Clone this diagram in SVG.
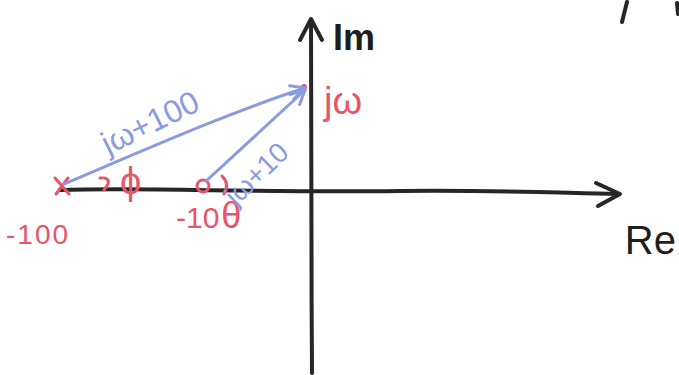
<svg xmlns="http://www.w3.org/2000/svg" width="679" height="375" viewBox="0 0 679 375">
<defs>
<style>
.ax{stroke:#262626;stroke-width:4;fill:none;stroke-linecap:round;stroke-linejoin:round}
.red{fill:#e85468;font-family:"Liberation Sans",sans-serif}
.redS{stroke:#e85468;stroke-width:3;fill:none;stroke-linecap:round}
.blk{fill:#1e1e1e;font-family:"Liberation Sans",sans-serif}
.blue{fill:#8a9be0;font-family:"Liberation Sans",sans-serif}
.vec{stroke:#8a9be0;stroke-width:3;fill:none;stroke-linecap:round}
</style>
<marker id="ah" viewBox="0 0 12 12" refX="11" refY="6" markerWidth="6" markerHeight="6" orient="auto" markerUnits="strokeWidth">
<path d="M1,1 L11,6 L1,11" fill="none" stroke="#8a9be0" stroke-width="2"/>
</marker>
</defs>
<rect width="679" height="375" fill="#fff"/>
<g id="axes">
<path class="ax" d="M60,190 C150,187 250,193 400,191 C500,190 560,193 618,194"/>
<path class="ax" d="M596,183 L620,194 L598,206"/>
<path class="ax" d="M312,373 C311,250 312,120 311,20"/>
<path class="ax" d="M300,40 L311,19 L322,40"/>
<path class="ax" d="M627,2 L622,22"/>
<path class="ax" d="M677,3 L678,14"/>
</g>
<g id="label-im"><text class="blk" x="333" y="50" font-size="36" font-family="'Liberation Serif',serif" font-weight="bold">Im</text></g>
<g id="label-re"><text class="blk" x="676" y="254" font-size="40" text-anchor="end">Re</text></g>
<g id="pole">
<path class="redS" d="M55,178 L69,194 M68,178 L56,194"/>
<text class="red" x="6" y="244" font-size="28" letter-spacing="2">-100</text>
</g>
<g id="zero">
<circle class="redS" cx="203" cy="186" r="6"/>
<text class="red" x="176" y="228" font-size="30">-10<tspan dx="2" font-size="36">θ</tspan></text>
<path class="redS" d="M222,176 Q230,184 224,194"/>
</g>
<g id="angle-phi">
<path class="redS" d="M100,178 Q110,177 108,184 L104,190"/>
<text class="red" x="120" y="194" font-size="38">ϕ</text>
</g>
<g id="point-jw">
<circle cx="304" cy="87" r="3" fill="#e85468"/>
<text class="red" x="324" y="114" font-size="38">jω</text>
</g>
<g id="connectors">
<path class="vec" d="M64,184 C140,152 230,112 305,88" marker-end="url(#ah)"/>
<path class="vec" d="M206,181 C240,150 275,118 305,90" marker-end="url(#ah)"/>
</g>
<g id="label-jw100"><text class="blue" x="108" y="155" font-size="32" transform="rotate(-26 108 155)">jω+100</text></g>
<g id="label-jw10"><text class="blue" x="236" y="207" font-size="28" transform="rotate(-44 236 207)">jω+10</text></g>
</svg>
